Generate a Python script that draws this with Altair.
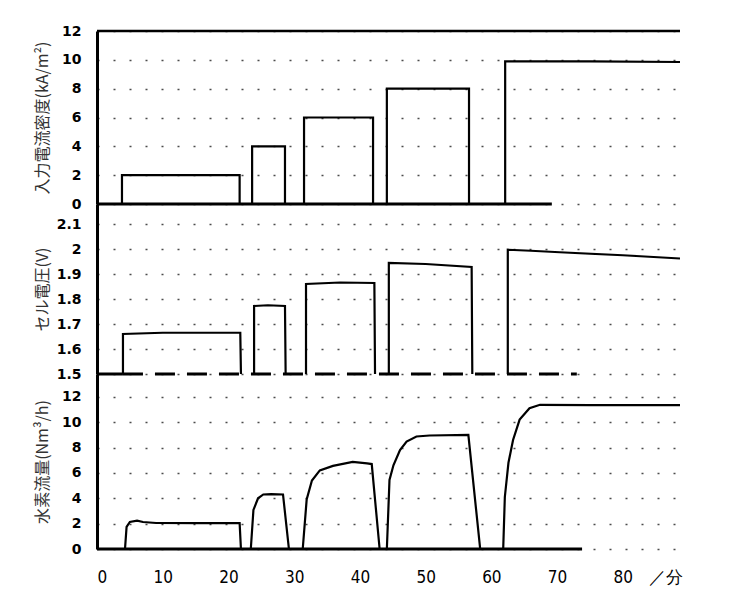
import altair as alt
import pandas as pd

# ---- x range (minutes) ----
XMAX = 88.7

# ---- top panel: input current density (kA/m2) ----
cd_t = [0, 3.8, 3.8, 21.7, 21.7, 23.6, 23.6, 28.6, 28.6, 31.5, 31.5, 42.0, 42.0,
        44.1, 44.1, 56.6, 56.6, 62.1, 62.1, 75.0, 88.7]
cd_v = [0, 0, 2, 2, 0, 0, 4, 4, 0, 0, 6, 6, 0, 0, 8, 8, 0, 0, 9.9, 9.9, 9.85]
cd_base_t = [0, 69.2]
cd_base_v = [0, 0]
cd_frame_t = [0, 88.7]
cd_frame_v = [12, 12]

# ---- middle panel: cell voltage (V) ----
v_pulse_id = [1, 1, 1, 1, 1,
              2, 2, 2, 2, 2,
              3, 3, 3, 3, 3,
              4, 4, 4, 4, 4,
              5, 5, 5, 5, 5, 5]
v_t = [3.95, 3.95, 10.0, 21.8, 21.9,
       23.9, 23.9, 26.0, 28.6, 28.7,
       31.8, 31.8, 37.0, 42.2, 42.3,
       44.4, 44.4, 50.0, 57.0, 57.1,
       62.5, 62.5, 66.0, 70.4, 80.0, 88.7]
v_v = [1.5, 1.66, 1.665, 1.665, 1.5,
       1.5, 1.772, 1.775, 1.772, 1.5,
       1.5, 1.86, 1.866, 1.864, 1.5,
       1.5, 1.944, 1.94, 1.928, 1.5,
       1.5, 1.997, 1.993, 1.987, 1.975, 1.962]
v_solid_t = [0, 3.95]
v_solid_v = [1.5, 1.5]
v_dash_t = [3.95, 73.0]
v_dash_v = [1.5, 1.5]

# ---- bottom panel: hydrogen flow (Nm3/h) ----
h_id = ([1] * 9) + ([2] * 7) + ([3] * 9) + ([4] * 9) + ([5] * 9)
h_t = [4.26, 4.5, 5.0, 6.1, 7.0, 9.0, 15.0, 21.7, 21.9,
       23.4, 23.8, 24.5, 25.3, 26.5, 28.3, 29.2,
       31.3, 31.9, 32.7, 33.9, 35.9, 38.9, 41.1, 41.8, 43.0,
       44.1, 44.5, 45.1, 46.1, 47.1, 48.6, 50.6, 56.5, 58.3,
       61.8, 62.05, 62.6, 63.3, 64.3, 65.8, 67.4, 75.0, 88.7]
h_v = [0, 1.75, 2.13, 2.23, 2.13, 2.05, 2.04, 2.04, 0,
       0, 3.08, 4.0, 4.3, 4.32, 4.3, 0,
       0, 3.9, 5.4, 6.2, 6.55, 6.87, 6.75, 6.7, 0,
       0, 5.44, 6.6, 7.8, 8.47, 8.87, 8.95, 9.0, 0,
       0, 4.1, 6.8, 8.6, 10.2, 11.1, 11.37, 11.35, 11.35]
h_base_t = [0, 73.8]
h_base_v = [0, 0]

x_ticks = [0, 10, 20, 30, 40, 50, 60, 70, 80, 86.5]

LBL_FONT = "DejaVu Sans"
TTL_FONT = "Noto Sans CJK JP"


def df_line(ts, vs, ids=None):
    if ids is None:
        ids = [0] * len(ts)
    return pd.DataFrame({"t": ts, "v": vs, "s": ids, "i": list(range(len(ts)))})


def x_enc(show):
    sc = alt.Scale(domain=[0, XMAX], nice=False, zero=False)
    if not show:
        return alt.X("t:Q", scale=sc, axis=None)
    return alt.X("t:Q", scale=sc, axis=alt.Axis(
        values=x_ticks, labelExpr="datum.value > 85 ? '／分' : datum.label",
        domain=False, ticks=False, grid=False, title=None,
        labelFont="DejaVu Sans Condensed", labelFontSize=17, labelColor="black",
        labelPadding=20))


def y_axis(title, values, h, fmt=None):
    kw = dict(values=values, domain=True, domainWidth=3, domainColor="black",
              ticks=False, labelFont=LBL_FONT, labelFontWeight="bold",
              labelFontSize=14, labelColor="black", labelPadding=16,
              grid=True, gridColor="black", gridDash=[2, 14], gridWidth=1.5,
              gridOpacity=0.7,
              title=title, titleFont=TTL_FONT, titleFontSize=16,
              titleFontWeight="normal", titleColor="#333",
              titleX=-47, titleY=h / 2)
    if fmt:
        kw["format"] = fmt
    return alt.Axis(**kw)


def panel(layers_data, ydom, yvals, title, h, show_x, fmt=None):
    layers = []
    for d, sw, dash in layers_data:
        mk = dict(color="black", strokeWidth=sw, clip=False)
        if dash:
            mk["strokeDash"] = dash
        layers.append(
            alt.Chart(d).mark_line(**mk).encode(
                x=x_enc(show_x),
                y=alt.Y("v:Q", scale=alt.Scale(domain=ydom, nice=False, zero=False),
                        axis=y_axis(title, yvals, h, fmt)),
                detail="s:N",
                order="i:Q",
            )
        )
    return alt.layer(*layers).properties(width=583, height=h)


top = panel(
    [(df_line(cd_t, cd_v), 2.2, None),
     (df_line(cd_base_t, cd_base_v), 3, None),
     (df_line(cd_frame_t, cd_frame_v), 2.5, None)],
    [0, 12], [0, 2, 4, 6, 8, 10, 12], "入力電流密度(kA/m²)", 173, False)

mid = panel(
    [(df_line(v_t, v_v, v_pulse_id), 2.2, None),
     (df_line(v_solid_t, v_solid_v), 3, None),
     (df_line(v_dash_t, v_dash_v), 3, [20, 12])],
    [1.5, 2.18], [1.5, 1.6, 1.7, 1.8, 1.9, 2.0, 2.1], "セル電圧(V)", 170, False,
    fmt=".1~f")

bot = panel(
    [(df_line(h_t, h_v, h_id), 2.2, None),
     (df_line(h_base_t, h_base_v), 3, None)],
    [0, 13.8], [0, 2, 4, 6, 8, 10, 12], "水素流量(Nm³/h)", 175, True)

chart = alt.vconcat(top, mid, bot, spacing=0, bounds="flush").properties(
    padding={"left": 25, "top": 16, "right": 5, "bottom": 5},
    background="white",
).configure_view(stroke=None)

chart.save("out.html", embed_options={"renderer": "svg", "actions": False})
